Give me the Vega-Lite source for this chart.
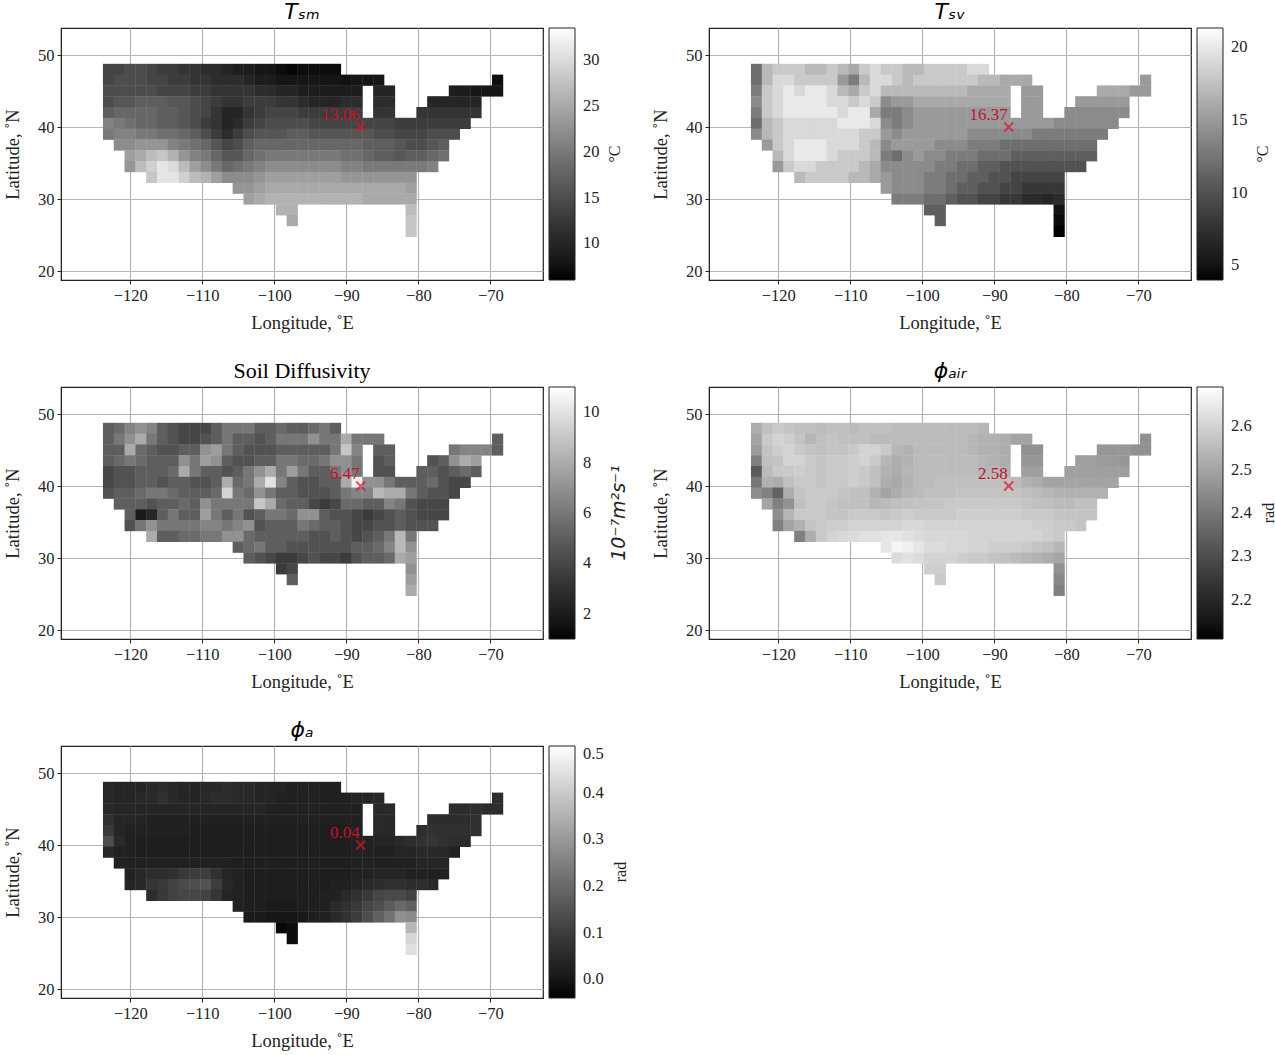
{"$schema":"https://vega.github.io/schema/vega-lite/v6.json","padding":{"left":2,"top":0,"right":20,"bottom":0},"background":"white",
"config":{"view":{"stroke":"#222","strokeWidth":1.2},"font":"Liberation Serif","title":{"font":"Liberation Serif","fontSize":22,"fontWeight":"normal","offset":4},
"axis":{"grid":true,"gridColor":"#b4b4b4","gridWidth":1.2,"zindex":1,"domainColor":"#222","tickColor":"#222","tickSize":4,"labelFont":"Liberation Serif","labelFontSize":16.5,"labelColor":"#222","titleFont":"Liberation Serif","titleFontSize":18.5,"titleFontWeight":"normal","titleColor":"#222","labelPadding":3,"titlePadding":10},"axisY":{"titlePadding":15},
"legend":{"gradientLength":252,"gradientThickness":26,"gradientStrokeColor":"#222","gradientStrokeWidth":1,"labelFont":"Liberation Serif","labelFontSize":16.5,"labelColor":"#222","labelOffset":21,"titleFont":"Liberation Serif","titleFontSize":16,"titleFontWeight":"normal","titleColor":"#222","titleOrient":"right","offset":6,"padding":0}},
"resolve":{"scale":{"color":"independent"},"legend":{"color":"independent"}},
"datasets":{"sites":[{"lon":-88,"lat":40,"panel":"tsm","label":"13.06"},{"lon":-88,"lat":40,"panel":"tsv","label":"16.37"},{"lon":-88,"lat":40,"panel":"dif","label":"6.47"},{"lon":-88,"lat":40,"panel":"air","label":"2.58"},{"lon":-88,"lat":40,"panel":"amp","label":"0.04"}],
"grid":[
{"lon":-123,"lat":48,"tsm":14,"tsv":12,"dif":5,"air":2.52,"amp":0.05},{"lon":-121.5,"lat":48,"tsm":14,"tsv":17,"dif":5.5,"air":2.56,"amp":0.04},{"lon":-120,"lat":48,"tsm":15,"tsv":18,"dif":6.5,"air":2.58,"amp":0.04},{"lon":-118.5,"lat":48,"tsm":15,"tsv":18,"dif":7,"air":2.57,"amp":0.04},{"lon":-117,"lat":48,"tsm":14,"tsv":18,"dif":6.5,"air":2.56,"amp":0.05},{"lon":-115.5,"lat":48,"tsm":13,"tsv":17,"dif":5,"air":2.56,"amp":0.06},{"lon":-114,"lat":48,"tsm":13,"tsv":17,"dif":4.5,"air":2.55,"amp":0.05},{"lon":-112.5,"lat":48,"tsm":12,"tsv":18,"dif":4,"air":2.56,"amp":0.04},{"lon":-111,"lat":48,"tsm":12,"tsv":17,"dif":4,"air":2.56,"amp":0.04},{"lon":-109.5,"lat":48,"tsm":11,"tsv":16,"dif":4,"air":2.55,"amp":0.05},{"lon":-108,"lat":48,"tsm":11,"tsv":18,"dif":5,"air":2.56,"amp":0.05},{"lon":-106.5,"lat":48,"tsm":10,"tsv":19,"dif":6,"air":2.56,"amp":0.06},{"lon":-105,"lat":48,"tsm":9,"tsv":18,"dif":6,"air":2.56,"amp":0.05},{"lon":-103.5,"lat":48,"tsm":9,"tsv":18,"dif":6,"air":2.55,"amp":0.05},{"lon":-102,"lat":48,"tsm":8,"tsv":17,"dif":5,"air":2.55,"amp":0.04},{"lon":-100.5,"lat":48,"tsm":8,"tsv":17,"dif":5,"air":2.55,"amp":0.04},{"lon":-99,"lat":48,"tsm":7,"tsv":18,"dif":5.5,"air":2.55,"amp":0.04},{"lon":-97.5,"lat":48,"tsm":6.5,"tsv":18,"dif":5,"air":2.55,"amp":0.03},{"lon":-96,"lat":48,"tsm":7,"tsv":18,"dif":5,"air":2.55,"amp":0.03},{"lon":-94.5,"lat":48,"tsm":7,"tsv":18,"dif":5.5,"air":2.55,"amp":0.03},{"lon":-93,"lat":48,"tsm":7,"tsv":19,"dif":6,"air":2.55,"amp":0.03},{"lon":-91.5,"lat":48,"tsm":7,"tsv":19,"dif":5,"air":2.54,"amp":0.03},
{"lon":-123,"lat":46.5,"tsm":14,"tsv":12,"dif":5,"air":2.5,"amp":0.05},{"lon":-121.5,"lat":46.5,"tsm":15,"tsv":17,"dif":6,"air":2.58,"amp":0.04},{"lon":-120,"lat":46.5,"tsm":15,"tsv":19,"dif":7,"air":2.6,"amp":0.04},{"lon":-118.5,"lat":46.5,"tsm":15,"tsv":19,"dif":8,"air":2.59,"amp":0.05},{"lon":-117,"lat":46.5,"tsm":14,"tsv":18,"dif":6,"air":2.57,"amp":0.05},{"lon":-115.5,"lat":46.5,"tsm":14,"tsv":18,"dif":5,"air":2.54,"amp":0.07},{"lon":-114,"lat":46.5,"tsm":13,"tsv":18,"dif":4.5,"air":2.56,"amp":0.05},{"lon":-112.5,"lat":46.5,"tsm":13,"tsv":18,"dif":4,"air":2.57,"amp":0.04},{"lon":-111,"lat":46.5,"tsm":12,"tsv":15,"dif":4,"air":2.56,"amp":0.04},{"lon":-109.5,"lat":46.5,"tsm":12,"tsv":13,"dif":4.5,"air":2.56,"amp":0.05},{"lon":-108,"lat":46.5,"tsm":11,"tsv":17,"dif":5,"air":2.56,"amp":0.06},{"lon":-106.5,"lat":46.5,"tsm":11,"tsv":19,"dif":6,"air":2.55,"amp":0.06},{"lon":-105,"lat":46.5,"tsm":11,"tsv":19,"dif":5,"air":2.55,"amp":0.05},{"lon":-103.5,"lat":46.5,"tsm":10,"tsv":18,"dif":5,"air":2.55,"amp":0.05},{"lon":-102,"lat":46.5,"tsm":9,"tsv":17,"dif":4.5,"air":2.55,"amp":0.04},{"lon":-100.5,"lat":46.5,"tsm":9,"tsv":18,"dif":5,"air":2.55,"amp":0.04},{"lon":-99,"lat":46.5,"tsm":8,"tsv":18,"dif":6,"air":2.55,"amp":0.03},{"lon":-97.5,"lat":46.5,"tsm":8,"tsv":18,"dif":6,"air":2.55,"amp":0.03},{"lon":-96,"lat":46.5,"tsm":8,"tsv":18,"dif":6,"air":2.55,"amp":0.03},{"lon":-94.5,"lat":46.5,"tsm":8,"tsv":18,"dif":7,"air":2.55,"amp":0.03},{"lon":-93,"lat":46.5,"tsm":8,"tsv":18,"dif":6,"air":2.54,"amp":0.03},{"lon":-91.5,"lat":46.5,"tsm":8,"tsv":17,"dif":6,"air":2.53,"amp":0.03},{"lon":-90,"lat":46.5,"tsm":7.5,"tsv":17,"dif":8,"air":2.53,"amp":0.03},{"lon":-88.5,"lat":46.5,"tsm":8,"tsv":16,"dif":6,"air":2.52,"amp":0.04},{"lon":-87,"lat":46.5,"tsm":8,"tsv":16,"dif":6,"air":2.5,"amp":0.04},{"lon":-85.5,"lat":46.5,"tsm":8,"tsv":16,"dif":6,"air":2.5,"amp":0.05},{"lon":-69,"lat":46.5,"tsm":7,"tsv":15,"dif":5,"air":2.46,"amp":0.06},
{"lon":-123,"lat":45,"tsm":15,"tsv":13,"dif":5,"air":2.48,"amp":0.05},{"lon":-121.5,"lat":45,"tsm":15,"tsv":18,"dif":5,"air":2.57,"amp":0.04},{"lon":-120,"lat":45,"tsm":15,"tsv":19,"dif":8,"air":2.59,"amp":0.04},{"lon":-118.5,"lat":45,"tsm":15,"tsv":20,"dif":5.5,"air":2.6,"amp":0.04},{"lon":-117,"lat":45,"tsm":15,"tsv":19,"dif":5,"air":2.58,"amp":0.04},{"lon":-115.5,"lat":45,"tsm":14,"tsv":20,"dif":4.5,"air":2.57,"amp":0.04},{"lon":-114,"lat":45,"tsm":14,"tsv":20,"dif":4.5,"air":2.56,"amp":0.04},{"lon":-112.5,"lat":45,"tsm":14,"tsv":19,"dif":5,"air":2.57,"amp":0.04},{"lon":-111,"lat":45,"tsm":13,"tsv":17,"dif":5,"air":2.57,"amp":0.04},{"lon":-109.5,"lat":45,"tsm":13,"tsv":16,"dif":7,"air":2.58,"amp":0.04},{"lon":-108,"lat":45,"tsm":12,"tsv":18,"dif":7.5,"air":2.6,"amp":0.04},{"lon":-106.5,"lat":45,"tsm":12,"tsv":19,"dif":6,"air":2.6,"amp":0.04},{"lon":-105,"lat":45,"tsm":12,"tsv":17,"dif":5,"air":2.58,"amp":0.04},{"lon":-103.5,"lat":45,"tsm":12,"tsv":17,"dif":4.5,"air":2.54,"amp":0.04},{"lon":-102,"lat":45,"tsm":11,"tsv":17,"dif":4.5,"air":2.53,"amp":0.04},{"lon":-100.5,"lat":45,"tsm":11,"tsv":17,"dif":4.5,"air":2.55,"amp":0.03},{"lon":-99,"lat":45,"tsm":10,"tsv":17,"dif":5,"air":2.55,"amp":0.03},{"lon":-97.5,"lat":45,"tsm":10,"tsv":17,"dif":5,"air":2.55,"amp":0.03},{"lon":-96,"lat":45,"tsm":9,"tsv":17,"dif":5,"air":2.55,"amp":0.03},{"lon":-94.5,"lat":45,"tsm":9,"tsv":17,"dif":5,"air":2.55,"amp":0.03},{"lon":-93,"lat":45,"tsm":9,"tsv":16,"dif":5,"air":2.54,"amp":0.03},{"lon":-91.5,"lat":45,"tsm":9,"tsv":16,"dif":6,"air":2.53,"amp":0.03},{"lon":-90,"lat":45,"tsm":9,"tsv":16,"dif":9,"air":2.53,"amp":0.03},{"lon":-88.5,"lat":45,"tsm":9,"tsv":16,"dif":6.5,"air":2.52,"amp":0.03},{"lon":-85.5,"lat":45,"tsm":10,"tsv":15,"dif":5,"air":2.46,"amp":0.05},{"lon":-84,"lat":45,"tsm":10,"tsv":15,"dif":5,"air":2.46,"amp":0.05},{"lon":-75,"lat":45,"tsm":9,"tsv":16,"dif":6,"air":2.47,"amp":0.06},{"lon":-73.5,"lat":45,"tsm":9,"tsv":16,"dif":6.5,"air":2.47,"amp":0.06},{"lon":-72,"lat":45,"tsm":8,"tsv":16,"dif":6.5,"air":2.47,"amp":0.06},{"lon":-70.5,"lat":45,"tsm":8,"tsv":15,"dif":6.5,"air":2.46,"amp":0.06},{"lon":-69,"lat":45,"tsm":8,"tsv":15,"dif":5,"air":2.46,"amp":0.06},
{"lon":-123,"lat":43.5,"tsm":15,"tsv":14,"dif":5,"air":2.42,"amp":0.07},{"lon":-121.5,"lat":43.5,"tsm":16,"tsv":18,"dif":5.5,"air":2.56,"amp":0.04},{"lon":-120,"lat":43.5,"tsm":16,"tsv":19,"dif":6,"air":2.57,"amp":0.04},{"lon":-118.5,"lat":43.5,"tsm":17,"tsv":20,"dif":5.5,"air":2.6,"amp":0.04},{"lon":-117,"lat":43.5,"tsm":17,"tsv":20,"dif":5,"air":2.6,"amp":0.03},{"lon":-115.5,"lat":43.5,"tsm":17,"tsv":20,"dif":5,"air":2.58,"amp":0.03},{"lon":-114,"lat":43.5,"tsm":16,"tsv":20,"dif":5,"air":2.57,"amp":0.03},{"lon":-112.5,"lat":43.5,"tsm":16,"tsv":19,"dif":7,"air":2.58,"amp":0.03},{"lon":-111,"lat":43.5,"tsm":15,"tsv":19,"dif":6,"air":2.58,"amp":0.03},{"lon":-109.5,"lat":43.5,"tsm":14,"tsv":18,"dif":7.5,"air":2.59,"amp":0.03},{"lon":-108,"lat":43.5,"tsm":13,"tsv":19,"dif":7,"air":2.6,"amp":0.03},{"lon":-106.5,"lat":43.5,"tsm":12,"tsv":18,"dif":5,"air":2.58,"amp":0.03},{"lon":-105,"lat":43.5,"tsm":12,"tsv":14,"dif":4.5,"air":2.54,"amp":0.03},{"lon":-103.5,"lat":43.5,"tsm":13,"tsv":15,"dif":4.5,"air":2.52,"amp":0.03},{"lon":-102,"lat":43.5,"tsm":13,"tsv":15,"dif":5,"air":2.53,"amp":0.03},{"lon":-100.5,"lat":43.5,"tsm":13,"tsv":16,"dif":5,"air":2.55,"amp":0.03},{"lon":-99,"lat":43.5,"tsm":12,"tsv":16,"dif":6,"air":2.55,"amp":0.03},{"lon":-97.5,"lat":43.5,"tsm":12,"tsv":16,"dif":6,"air":2.55,"amp":0.03},{"lon":-96,"lat":43.5,"tsm":11,"tsv":16,"dif":5.5,"air":2.55,"amp":0.03},{"lon":-94.5,"lat":43.5,"tsm":10,"tsv":16,"dif":5.5,"air":2.55,"amp":0.03},{"lon":-93,"lat":43.5,"tsm":10,"tsv":16,"dif":6,"air":2.55,"amp":0.03},{"lon":-91.5,"lat":43.5,"tsm":10,"tsv":16,"dif":7,"air":2.54,"amp":0.03},{"lon":-90,"lat":43.5,"tsm":11,"tsv":16,"dif":7,"air":2.53,"amp":0.03},{"lon":-88.5,"lat":43.5,"tsm":11,"tsv":16,"dif":6,"air":2.52,"amp":0.03},{"lon":-85.5,"lat":43.5,"tsm":11,"tsv":15,"dif":4.5,"air":2.47,"amp":0.05},{"lon":-84,"lat":43.5,"tsm":11,"tsv":15,"dif":5,"air":2.47,"amp":0.05},{"lon":-78,"lat":43.5,"tsm":10,"tsv":15,"dif":4.5,"air":2.49,"amp":0.06},{"lon":-76.5,"lat":43.5,"tsm":10,"tsv":15,"dif":5,"air":2.49,"amp":0.06},{"lon":-75,"lat":43.5,"tsm":10,"tsv":15,"dif":7,"air":2.48,"amp":0.06},{"lon":-73.5,"lat":43.5,"tsm":10,"tsv":15,"dif":8,"air":2.48,"amp":0.06},{"lon":-72,"lat":43.5,"tsm":10,"tsv":15,"dif":7.5,"air":2.47,"amp":0.07},
{"lon":-123,"lat":42,"tsm":17,"tsv":13,"dif":4,"air":2.33,"amp":0.09},{"lon":-121.5,"lat":42,"tsm":18,"tsv":18,"dif":4.5,"air":2.55,"amp":0.04},{"lon":-120,"lat":42,"tsm":18,"tsv":19,"dif":4.5,"air":2.58,"amp":0.03},{"lon":-118.5,"lat":42,"tsm":18,"tsv":20,"dif":5,"air":2.58,"amp":0.03},{"lon":-117,"lat":42,"tsm":18,"tsv":20,"dif":5,"air":2.59,"amp":0.03},{"lon":-115.5,"lat":42,"tsm":17,"tsv":20,"dif":5,"air":2.58,"amp":0.03},{"lon":-114,"lat":42,"tsm":17,"tsv":20,"dif":5.5,"air":2.57,"amp":0.03},{"lon":-112.5,"lat":42,"tsm":16,"tsv":20,"dif":8,"air":2.58,"amp":0.03},{"lon":-111,"lat":42,"tsm":15,"tsv":19,"dif":6,"air":2.58,"amp":0.02},{"lon":-109.5,"lat":42,"tsm":14,"tsv":20,"dif":5,"air":2.59,"amp":0.02},{"lon":-108,"lat":42,"tsm":12,"tsv":20,"dif":5,"air":2.58,"amp":0.02},{"lon":-106.5,"lat":42,"tsm":10,"tsv":16,"dif":4.5,"air":2.56,"amp":0.02},{"lon":-105,"lat":42,"tsm":10,"tsv":13,"dif":5,"air":2.53,"amp":0.02},{"lon":-103.5,"lat":42,"tsm":12,"tsv":13,"dif":6,"air":2.52,"amp":0.02},{"lon":-102,"lat":42,"tsm":13,"tsv":14,"dif":7,"air":2.54,"amp":0.02},{"lon":-100.5,"lat":42,"tsm":14,"tsv":15,"dif":8,"air":2.55,"amp":0.02},{"lon":-99,"lat":42,"tsm":14,"tsv":15,"dif":6,"air":2.55,"amp":0.02},{"lon":-97.5,"lat":42,"tsm":14,"tsv":15,"dif":7.5,"air":2.55,"amp":0.02},{"lon":-96,"lat":42,"tsm":13,"tsv":15,"dif":6,"air":2.55,"amp":0.02},{"lon":-94.5,"lat":42,"tsm":13,"tsv":15,"dif":5,"air":2.55,"amp":0.02},{"lon":-93,"lat":42,"tsm":13,"tsv":15,"dif":5,"air":2.55,"amp":0.02},{"lon":-91.5,"lat":42,"tsm":13,"tsv":15,"dif":6,"air":2.54,"amp":0.02},{"lon":-90,"lat":42,"tsm":13,"tsv":15,"dif":7,"air":2.54,"amp":0.02},{"lon":-88.5,"lat":42,"tsm":13,"tsv":15,"dif":6,"air":2.53,"amp":0.03},{"lon":-85.5,"lat":42,"tsm":12,"tsv":15,"dif":4.5,"air":2.49,"amp":0.05},{"lon":-84,"lat":42,"tsm":12,"tsv":15,"dif":4.5,"air":2.49,"amp":0.05},{"lon":-79.5,"lat":42,"tsm":12,"tsv":14,"dif":5,"air":2.49,"amp":0.06},{"lon":-78,"lat":42,"tsm":12,"tsv":14,"dif":5,"air":2.49,"amp":0.07},{"lon":-76.5,"lat":42,"tsm":12,"tsv":14,"dif":4.5,"air":2.49,"amp":0.07},{"lon":-75,"lat":42,"tsm":12,"tsv":14,"dif":5,"air":2.49,"amp":0.07},{"lon":-73.5,"lat":42,"tsm":12,"tsv":14,"dif":5.5,"air":2.49,"amp":0.07},{"lon":-72,"lat":42,"tsm":12,"tsv":14,"dif":5,"air":2.49,"amp":0.07},
{"lon":-123,"lat":40.5,"tsm":21,"tsv":12,"dif":4,"air":2.4,"amp":0.14},{"lon":-121.5,"lat":40.5,"tsm":20,"tsv":17,"dif":4.5,"air":2.53,"amp":0.05},{"lon":-120,"lat":40.5,"tsm":19,"tsv":18,"dif":4.5,"air":2.52,"amp":0.03},{"lon":-118.5,"lat":40.5,"tsm":18,"tsv":19,"dif":5,"air":2.56,"amp":0.02},{"lon":-117,"lat":40.5,"tsm":18,"tsv":19,"dif":5,"air":2.58,"amp":0.02},{"lon":-115.5,"lat":40.5,"tsm":17,"tsv":19,"dif":4.5,"air":2.58,"amp":0.02},{"lon":-114,"lat":40.5,"tsm":17,"tsv":19,"dif":5,"air":2.57,"amp":0.02},{"lon":-112.5,"lat":40.5,"tsm":16,"tsv":19,"dif":5,"air":2.58,"amp":0.02},{"lon":-111,"lat":40.5,"tsm":15,"tsv":20,"dif":4.5,"air":2.58,"amp":0.02},{"lon":-109.5,"lat":40.5,"tsm":13,"tsv":20,"dif":4.5,"air":2.59,"amp":0.02},{"lon":-108,"lat":40.5,"tsm":12,"tsv":20,"dif":5,"air":2.58,"amp":0.02},{"lon":-106.5,"lat":40.5,"tsm":10,"tsv":19,"dif":8,"air":2.56,"amp":0.02},{"lon":-105,"lat":40.5,"tsm":11,"tsv":14,"dif":5.5,"air":2.52,"amp":0.02},{"lon":-103.5,"lat":40.5,"tsm":13,"tsv":13,"dif":6,"air":2.51,"amp":0.02},{"lon":-102,"lat":40.5,"tsm":14,"tsv":14,"dif":8,"air":2.53,"amp":0.02},{"lon":-100.5,"lat":40.5,"tsm":15,"tsv":15,"dif":10,"air":2.55,"amp":0.02},{"lon":-99,"lat":40.5,"tsm":15,"tsv":15,"dif":6.5,"air":2.55,"amp":0.02},{"lon":-97.5,"lat":40.5,"tsm":15,"tsv":15,"dif":5,"air":2.56,"amp":0.02},{"lon":-96,"lat":40.5,"tsm":15,"tsv":15,"dif":4.5,"air":2.56,"amp":0.02},{"lon":-94.5,"lat":40.5,"tsm":14,"tsv":15,"dif":4.5,"air":2.56,"amp":0.02},{"lon":-93,"lat":40.5,"tsm":14,"tsv":15,"dif":5,"air":2.56,"amp":0.02},{"lon":-91.5,"lat":40.5,"tsm":14,"tsv":15,"dif":5,"air":2.56,"amp":0.02},{"lon":-90,"lat":40.5,"tsm":14,"tsv":15,"dif":8,"air":2.56,"amp":0.02},{"lon":-88.5,"lat":40.5,"tsm":14,"tsv":15,"dif":10.5,"air":2.56,"amp":0.03},{"lon":-87,"lat":40.5,"tsm":14,"tsv":15,"dif":7,"air":2.55,"amp":0.03},{"lon":-85.5,"lat":40.5,"tsm":14,"tsv":15,"dif":7,"air":2.53,"amp":0.04},{"lon":-84,"lat":40.5,"tsm":14,"tsv":15,"dif":6,"air":2.52,"amp":0.04},{"lon":-82.5,"lat":40.5,"tsm":13,"tsv":15,"dif":5,"air":2.5,"amp":0.05},{"lon":-81,"lat":40.5,"tsm":13,"tsv":14,"dif":5,"air":2.5,"amp":0.06},{"lon":-79.5,"lat":40.5,"tsm":13,"tsv":14,"dif":5,"air":2.5,"amp":0.07},{"lon":-78,"lat":40.5,"tsm":13,"tsv":14,"dif":5.5,"air":2.5,"amp":0.08},{"lon":-76.5,"lat":40.5,"tsm":13,"tsv":14,"dif":4.5,"air":2.5,"amp":0.07},{"lon":-75,"lat":40.5,"tsm":13,"tsv":14,"dif":4,"air":2.5,"amp":0.06},{"lon":-73.5,"lat":40.5,"tsm":13,"tsv":14,"dif":4,"air":2.5,"amp":0.06},
{"lon":-123,"lat":39,"tsm":20,"tsv":14,"dif":4.5,"air":2.45,"amp":0.05},{"lon":-121.5,"lat":39,"tsm":21,"tsv":17,"dif":5,"air":2.42,"amp":0.03},{"lon":-120,"lat":39,"tsm":21,"tsv":18,"dif":5,"air":2.35,"amp":0.03},{"lon":-118.5,"lat":39,"tsm":20,"tsv":19,"dif":5.5,"air":2.52,"amp":0.02},{"lon":-117,"lat":39,"tsm":20,"tsv":19,"dif":6,"air":2.57,"amp":0.02},{"lon":-115.5,"lat":39,"tsm":19,"tsv":19,"dif":6,"air":2.58,"amp":0.02},{"lon":-114,"lat":39,"tsm":19,"tsv":19,"dif":5.5,"air":2.58,"amp":0.02},{"lon":-112.5,"lat":39,"tsm":18,"tsv":19,"dif":5,"air":2.58,"amp":0.02},{"lon":-111,"lat":39,"tsm":17,"tsv":19,"dif":5,"air":2.57,"amp":0.02},{"lon":-109.5,"lat":39,"tsm":15,"tsv":19,"dif":5,"air":2.56,"amp":0.02},{"lon":-108,"lat":39,"tsm":13,"tsv":18,"dif":5.5,"air":2.56,"amp":0.02},{"lon":-106.5,"lat":39,"tsm":11,"tsv":18,"dif":9.5,"air":2.53,"amp":0.02},{"lon":-105,"lat":39,"tsm":13,"tsv":15,"dif":6,"air":2.5,"amp":0.02},{"lon":-103.5,"lat":39,"tsm":15,"tsv":14,"dif":5.5,"air":2.52,"amp":0.02},{"lon":-102,"lat":39,"tsm":16,"tsv":15,"dif":7,"air":2.54,"amp":0.02},{"lon":-100.5,"lat":39,"tsm":16,"tsv":15,"dif":6,"air":2.55,"amp":0.02},{"lon":-99,"lat":39,"tsm":16,"tsv":15,"dif":5,"air":2.56,"amp":0.02},{"lon":-97.5,"lat":39,"tsm":17,"tsv":15,"dif":5,"air":2.56,"amp":0.02},{"lon":-96,"lat":39,"tsm":17,"tsv":15,"dif":4.5,"air":2.56,"amp":0.02},{"lon":-94.5,"lat":39,"tsm":16,"tsv":15,"dif":4.5,"air":2.57,"amp":0.02},{"lon":-93,"lat":39,"tsm":16,"tsv":14,"dif":4.5,"air":2.57,"amp":0.02},{"lon":-91.5,"lat":39,"tsm":16,"tsv":14,"dif":5,"air":2.57,"amp":0.02},{"lon":-90,"lat":39,"tsm":16,"tsv":14,"dif":6,"air":2.57,"amp":0.02},{"lon":-88.5,"lat":39,"tsm":16,"tsv":14,"dif":6.5,"air":2.57,"amp":0.03},{"lon":-87,"lat":39,"tsm":16,"tsv":14,"dif":6.5,"air":2.57,"amp":0.03},{"lon":-85.5,"lat":39,"tsm":15,"tsv":14,"dif":8.5,"air":2.56,"amp":0.03},{"lon":-84,"lat":39,"tsm":15,"tsv":13,"dif":8,"air":2.55,"amp":0.03},{"lon":-82.5,"lat":39,"tsm":14,"tsv":13,"dif":8,"air":2.54,"amp":0.04},{"lon":-81,"lat":39,"tsm":14,"tsv":13,"dif":6,"air":2.53,"amp":0.04},{"lon":-79.5,"lat":39,"tsm":14,"tsv":13,"dif":5,"air":2.53,"amp":0.05},{"lon":-78,"lat":39,"tsm":15,"tsv":13,"dif":4.5,"air":2.53,"amp":0.05},{"lon":-76.5,"lat":39,"tsm":15,"tsv":13,"dif":4.5,"air":2.53,"amp":0.05},{"lon":-75,"lat":39,"tsm":15,"tsv":13,"dif":4,"air":2.53,"amp":0.03},
{"lon":-121.5,"lat":37.5,"tsm":22,"tsv":15,"dif":5,"air":2.5,"amp":0.03},{"lon":-120,"lat":37.5,"tsm":22,"tsv":18,"dif":5,"air":2.42,"amp":0.03},{"lon":-118.5,"lat":37.5,"tsm":23,"tsv":19,"dif":5,"air":2.46,"amp":0.03},{"lon":-117,"lat":37.5,"tsm":23,"tsv":20,"dif":4.5,"air":2.56,"amp":0.03},{"lon":-115.5,"lat":37.5,"tsm":23,"tsv":20,"dif":5,"air":2.58,"amp":0.03},{"lon":-114,"lat":37.5,"tsm":21,"tsv":20,"dif":5,"air":2.58,"amp":0.03},{"lon":-112.5,"lat":37.5,"tsm":20,"tsv":19,"dif":5.5,"air":2.57,"amp":0.03},{"lon":-111,"lat":37.5,"tsm":19,"tsv":19,"dif":5,"air":2.56,"amp":0.03},{"lon":-109.5,"lat":37.5,"tsm":18,"tsv":19,"dif":7,"air":2.56,"amp":0.03},{"lon":-108,"lat":37.5,"tsm":16,"tsv":18,"dif":6,"air":2.56,"amp":0.03},{"lon":-106.5,"lat":37.5,"tsm":14,"tsv":17,"dif":6,"air":2.54,"amp":0.03},{"lon":-105,"lat":37.5,"tsm":15,"tsv":14,"dif":6,"air":2.55,"amp":0.02},{"lon":-103.5,"lat":37.5,"tsm":17,"tsv":15,"dif":6,"air":2.56,"amp":0.02},{"lon":-102,"lat":37.5,"tsm":18,"tsv":15,"dif":9,"air":2.56,"amp":0.02},{"lon":-100.5,"lat":37.5,"tsm":18,"tsv":15,"dif":8,"air":2.57,"amp":0.02},{"lon":-99,"lat":37.5,"tsm":18,"tsv":15,"dif":5.5,"air":2.57,"amp":0.02},{"lon":-97.5,"lat":37.5,"tsm":18,"tsv":14,"dif":5,"air":2.57,"amp":0.02},{"lon":-96,"lat":37.5,"tsm":18,"tsv":14,"dif":5,"air":2.58,"amp":0.02},{"lon":-94.5,"lat":37.5,"tsm":18,"tsv":14,"dif":4,"air":2.58,"amp":0.02},{"lon":-93,"lat":37.5,"tsm":18,"tsv":13,"dif":3.5,"air":2.58,"amp":0.02},{"lon":-91.5,"lat":37.5,"tsm":18,"tsv":13,"dif":4,"air":2.58,"amp":0.02},{"lon":-90,"lat":37.5,"tsm":18,"tsv":13,"dif":5.5,"air":2.58,"amp":0.02},{"lon":-88.5,"lat":37.5,"tsm":18,"tsv":12,"dif":5.5,"air":2.58,"amp":0.03},{"lon":-87,"lat":37.5,"tsm":17,"tsv":12,"dif":5,"air":2.58,"amp":0.03},{"lon":-85.5,"lat":37.5,"tsm":17,"tsv":12,"dif":5,"air":2.57,"amp":0.03},{"lon":-84,"lat":37.5,"tsm":17,"tsv":12,"dif":6.5,"air":2.56,"amp":0.03},{"lon":-82.5,"lat":37.5,"tsm":16,"tsv":12,"dif":6,"air":2.56,"amp":0.03},{"lon":-81,"lat":37.5,"tsm":15,"tsv":12,"dif":4.5,"air":2.55,"amp":0.03},{"lon":-79.5,"lat":37.5,"tsm":15,"tsv":12,"dif":4,"air":2.55,"amp":0.04},{"lon":-78,"lat":37.5,"tsm":16,"tsv":12,"dif":4,"air":2.56,"amp":0.04},{"lon":-76.5,"lat":37.5,"tsm":17,"tsv":12,"dif":4,"air":2.56,"amp":0.04},
{"lon":-120,"lat":36,"tsm":24,"tsv":17,"dif":5,"air":2.45,"amp":0.03},{"lon":-118.5,"lat":36,"tsm":25,"tsv":19,"dif":2,"air":2.54,"amp":0.05},{"lon":-117,"lat":36,"tsm":27,"tsv":20,"dif":2.5,"air":2.58,"amp":0.06},{"lon":-115.5,"lat":36,"tsm":28,"tsv":20,"dif":5,"air":2.58,"amp":0.06},{"lon":-114,"lat":36,"tsm":26,"tsv":20,"dif":6,"air":2.58,"amp":0.07},{"lon":-112.5,"lat":36,"tsm":23,"tsv":19,"dif":5,"air":2.57,"amp":0.09},{"lon":-111,"lat":36,"tsm":21,"tsv":18,"dif":5,"air":2.57,"amp":0.1},{"lon":-109.5,"lat":36,"tsm":20,"tsv":18,"dif":7.5,"air":2.58,"amp":0.1},{"lon":-108,"lat":36,"tsm":18,"tsv":18,"dif":6,"air":2.58,"amp":0.07},{"lon":-106.5,"lat":36,"tsm":16,"tsv":17,"dif":5,"air":2.58,"amp":0.04},{"lon":-105,"lat":36,"tsm":16,"tsv":13,"dif":6,"air":2.57,"amp":0.03},{"lon":-103.5,"lat":36,"tsm":18,"tsv":12,"dif":4.5,"air":2.58,"amp":0.02},{"lon":-102,"lat":36,"tsm":19,"tsv":14,"dif":5,"air":2.59,"amp":0.02},{"lon":-100.5,"lat":36,"tsm":20,"tsv":15,"dif":6,"air":2.58,"amp":0.02},{"lon":-99,"lat":36,"tsm":20,"tsv":14,"dif":6,"air":2.58,"amp":0.02},{"lon":-97.5,"lat":36,"tsm":20,"tsv":14,"dif":5.5,"air":2.58,"amp":0.02},{"lon":-96,"lat":36,"tsm":20,"tsv":13,"dif":7,"air":2.58,"amp":0.02},{"lon":-94.5,"lat":36,"tsm":20,"tsv":13,"dif":7,"air":2.59,"amp":0.02},{"lon":-93,"lat":36,"tsm":20,"tsv":13,"dif":5,"air":2.59,"amp":0.02},{"lon":-91.5,"lat":36,"tsm":20,"tsv":12,"dif":4.5,"air":2.59,"amp":0.02},{"lon":-90,"lat":36,"tsm":19,"tsv":12,"dif":4.5,"air":2.59,"amp":0.02},{"lon":-88.5,"lat":36,"tsm":19,"tsv":12,"dif":4,"air":2.59,"amp":0.03},{"lon":-87,"lat":36,"tsm":18,"tsv":11,"dif":3.5,"air":2.59,"amp":0.03},{"lon":-85.5,"lat":36,"tsm":17,"tsv":11,"dif":4,"air":2.58,"amp":0.04},{"lon":-84,"lat":36,"tsm":17,"tsv":11,"dif":4.5,"air":2.58,"amp":0.04},{"lon":-82.5,"lat":36,"tsm":16,"tsv":11,"dif":5,"air":2.58,"amp":0.04},{"lon":-81,"lat":36,"tsm":17,"tsv":11,"dif":4.5,"air":2.57,"amp":0.03},{"lon":-79.5,"lat":36,"tsm":17,"tsv":11,"dif":4,"air":2.57,"amp":0.03},{"lon":-78,"lat":36,"tsm":18,"tsv":11,"dif":4,"air":2.57,"amp":0.03},{"lon":-76.5,"lat":36,"tsm":19,"tsv":11,"dif":4,"air":2.57,"amp":0.03},
{"lon":-120,"lat":34.5,"tsm":23,"tsv":15,"dif":4.5,"air":2.42,"amp":0.04},{"lon":-118.5,"lat":34.5,"tsm":27,"tsv":18,"dif":6,"air":2.5,"amp":0.05},{"lon":-117,"lat":34.5,"tsm":29,"tsv":19,"dif":7,"air":2.53,"amp":0.08},{"lon":-115.5,"lat":34.5,"tsm":31,"tsv":19,"dif":6,"air":2.57,"amp":0.09},{"lon":-114,"lat":34.5,"tsm":30,"tsv":18,"dif":6,"air":2.58,"amp":0.11},{"lon":-112.5,"lat":34.5,"tsm":27,"tsv":18,"dif":6,"air":2.59,"amp":0.13},{"lon":-111,"lat":34.5,"tsm":24,"tsv":18,"dif":6,"air":2.59,"amp":0.14},{"lon":-109.5,"lat":34.5,"tsm":22,"tsv":18,"dif":6.5,"air":2.6,"amp":0.15},{"lon":-108,"lat":34.5,"tsm":20,"tsv":17,"dif":6.5,"air":2.6,"amp":0.1},{"lon":-106.5,"lat":34.5,"tsm":18,"tsv":16,"dif":6,"air":2.6,"amp":0.05},{"lon":-105,"lat":34.5,"tsm":19,"tsv":14,"dif":6.5,"air":2.6,"amp":0.03},{"lon":-103.5,"lat":34.5,"tsm":20,"tsv":14,"dif":7,"air":2.6,"amp":0.02},{"lon":-102,"lat":34.5,"tsm":21,"tsv":14,"dif":4.5,"air":2.61,"amp":0.02},{"lon":-100.5,"lat":34.5,"tsm":22,"tsv":14,"dif":5,"air":2.61,"amp":0.02},{"lon":-99,"lat":34.5,"tsm":22,"tsv":14,"dif":5,"air":2.6,"amp":0.02},{"lon":-97.5,"lat":34.5,"tsm":22,"tsv":13,"dif":5,"air":2.6,"amp":0.02},{"lon":-96,"lat":34.5,"tsm":22,"tsv":13,"dif":6,"air":2.6,"amp":0.02},{"lon":-94.5,"lat":34.5,"tsm":22,"tsv":12,"dif":5.5,"air":2.6,"amp":0.02},{"lon":-93,"lat":34.5,"tsm":22,"tsv":12,"dif":5,"air":2.6,"amp":0.02},{"lon":-91.5,"lat":34.5,"tsm":22,"tsv":11,"dif":5,"air":2.6,"amp":0.03},{"lon":-90,"lat":34.5,"tsm":21,"tsv":11,"dif":4.5,"air":2.6,"amp":0.03},{"lon":-88.5,"lat":34.5,"tsm":21,"tsv":10,"dif":4,"air":2.6,"amp":0.04},{"lon":-87,"lat":34.5,"tsm":20,"tsv":10,"dif":4,"air":2.6,"amp":0.05},{"lon":-85.5,"lat":34.5,"tsm":20,"tsv":10,"dif":4.5,"air":2.6,"amp":0.06},{"lon":-84,"lat":34.5,"tsm":20,"tsv":10,"dif":4.5,"air":2.59,"amp":0.07},{"lon":-82.5,"lat":34.5,"tsm":20,"tsv":10,"dif":5,"air":2.59,"amp":0.07},{"lon":-81,"lat":34.5,"tsm":20,"tsv":10,"dif":4.5,"air":2.58,"amp":0.06},{"lon":-79.5,"lat":34.5,"tsm":20,"tsv":10,"dif":4.5,"air":2.58,"amp":0.06},{"lon":-78,"lat":34.5,"tsm":21,"tsv":10,"dif":4.5,"air":2.57,"amp":0.05},
{"lon":-117,"lat":33,"tsm":28,"tsv":17,"dif":8,"air":2.42,"amp":0.06},{"lon":-115.5,"lat":33,"tsm":31,"tsv":18,"dif":5,"air":2.52,"amp":0.09},{"lon":-114,"lat":33,"tsm":31,"tsv":18,"dif":5,"air":2.58,"amp":0.11},{"lon":-112.5,"lat":33,"tsm":29,"tsv":18,"dif":5.5,"air":2.6,"amp":0.12},{"lon":-111,"lat":33,"tsm":27,"tsv":18,"dif":5.5,"air":2.61,"amp":0.12},{"lon":-109.5,"lat":33,"tsm":26,"tsv":17,"dif":6,"air":2.62,"amp":0.11},{"lon":-108,"lat":33,"tsm":24,"tsv":17,"dif":6,"air":2.63,"amp":0.08},{"lon":-106.5,"lat":33,"tsm":22,"tsv":16,"dif":7,"air":2.63,"amp":0.04},{"lon":-105,"lat":33,"tsm":22,"tsv":15,"dif":7,"air":2.64,"amp":0.03},{"lon":-103.5,"lat":33,"tsm":22,"tsv":14,"dif":5.5,"air":2.64,"amp":0.02},{"lon":-102,"lat":33,"tsm":23,"tsv":14,"dif":5,"air":2.63,"amp":0.02},{"lon":-100.5,"lat":33,"tsm":24,"tsv":14,"dif":5,"air":2.62,"amp":0.02},{"lon":-99,"lat":33,"tsm":24,"tsv":13,"dif":5,"air":2.61,"amp":0.02},{"lon":-97.5,"lat":33,"tsm":24,"tsv":13,"dif":5,"air":2.61,"amp":0.02},{"lon":-96,"lat":33,"tsm":24,"tsv":12,"dif":5,"air":2.61,"amp":0.02},{"lon":-94.5,"lat":33,"tsm":24,"tsv":12,"dif":4.5,"air":2.61,"amp":0.02},{"lon":-93,"lat":33,"tsm":24,"tsv":11,"dif":4.5,"air":2.6,"amp":0.03},{"lon":-91.5,"lat":33,"tsm":24,"tsv":11,"dif":5,"air":2.6,"amp":0.03},{"lon":-90,"lat":33,"tsm":23,"tsv":10,"dif":4.5,"air":2.6,"amp":0.05},{"lon":-88.5,"lat":33,"tsm":23,"tsv":10,"dif":4,"air":2.6,"amp":0.07},{"lon":-87,"lat":33,"tsm":23,"tsv":9,"dif":4.5,"air":2.6,"amp":0.09},{"lon":-85.5,"lat":33,"tsm":23,"tsv":9,"dif":5,"air":2.6,"amp":0.12},{"lon":-84,"lat":33,"tsm":23,"tsv":9,"dif":6,"air":2.6,"amp":0.13},{"lon":-82.5,"lat":33,"tsm":23,"tsv":9,"dif":8.5,"air":2.59,"amp":0.13},{"lon":-81,"lat":33,"tsm":23,"tsv":9,"dif":6,"air":2.58,"amp":0.11},
{"lon":-105,"lat":31.5,"tsm":23,"tsv":15,"dif":5,"air":2.64,"amp":0.03},{"lon":-103.5,"lat":31.5,"tsm":23,"tsv":14,"dif":5.5,"air":2.67,"amp":0.02},{"lon":-102,"lat":31.5,"tsm":24,"tsv":14,"dif":6,"air":2.66,"amp":0.02},{"lon":-100.5,"lat":31.5,"tsm":25,"tsv":14,"dif":5,"air":2.64,"amp":0.01},{"lon":-99,"lat":31.5,"tsm":25,"tsv":13,"dif":5,"air":2.62,"amp":0.01},{"lon":-97.5,"lat":31.5,"tsm":25,"tsv":13,"dif":4.5,"air":2.62,"amp":0.01},{"lon":-96,"lat":31.5,"tsm":25,"tsv":12,"dif":4.5,"air":2.61,"amp":0.02},{"lon":-94.5,"lat":31.5,"tsm":25,"tsv":11,"dif":4.5,"air":2.61,"amp":0.02},{"lon":-93,"lat":31.5,"tsm":25,"tsv":11,"dif":4.5,"air":2.6,"amp":0.03},{"lon":-91.5,"lat":31.5,"tsm":25,"tsv":10,"dif":4.5,"air":2.6,"amp":0.05},{"lon":-90,"lat":31.5,"tsm":25,"tsv":10,"dif":4.5,"air":2.59,"amp":0.07},{"lon":-88.5,"lat":31.5,"tsm":25,"tsv":9,"dif":5,"air":2.59,"amp":0.09},{"lon":-87,"lat":31.5,"tsm":25,"tsv":9,"dif":5,"air":2.59,"amp":0.12},{"lon":-85.5,"lat":31.5,"tsm":25,"tsv":8,"dif":5.5,"air":2.58,"amp":0.14},{"lon":-84,"lat":31.5,"tsm":25,"tsv":8,"dif":6.5,"air":2.57,"amp":0.17},{"lon":-82.5,"lat":31.5,"tsm":25,"tsv":8,"dif":8.5,"air":2.56,"amp":0.2},{"lon":-81,"lat":31.5,"tsm":24,"tsv":8,"dif":7,"air":2.54,"amp":0.18},
{"lon":-103.5,"lat":30,"tsm":24,"tsv":13,"dif":5,"air":2.62,"amp":0.01},{"lon":-102,"lat":30,"tsm":25,"tsv":13,"dif":4.5,"air":2.63,"amp":0.01},{"lon":-100.5,"lat":30,"tsm":26,"tsv":13,"dif":4,"air":2.62,"amp":0},{"lon":-99,"lat":30,"tsm":26,"tsv":12,"dif":3.5,"air":2.6,"amp":0},{"lon":-97.5,"lat":30,"tsm":26,"tsv":12,"dif":3.5,"air":2.6,"amp":0},{"lon":-96,"lat":30,"tsm":26,"tsv":11,"dif":4,"air":2.6,"amp":0.01},{"lon":-94.5,"lat":30,"tsm":26,"tsv":10,"dif":4.5,"air":2.59,"amp":0.02},{"lon":-93,"lat":30,"tsm":26,"tsv":10,"dif":4,"air":2.58,"amp":0.03},{"lon":-91.5,"lat":30,"tsm":26,"tsv":9,"dif":4,"air":2.58,"amp":0.05},{"lon":-90,"lat":30,"tsm":26,"tsv":9,"dif":3.5,"air":2.57,"amp":0.07},{"lon":-88.5,"lat":30,"tsm":26,"tsv":8,"dif":4.5,"air":2.56,"amp":0.1},{"lon":-87,"lat":30,"tsm":25,"tsv":8,"dif":5,"air":2.55,"amp":0.14},{"lon":-85.5,"lat":30,"tsm":25,"tsv":7,"dif":5,"air":2.54,"amp":0.18},{"lon":-84,"lat":30,"tsm":25,"tsv":7,"dif":5.5,"air":2.53,"amp":0.22},{"lon":-82.5,"lat":30,"tsm":25,"tsv":6.5,"dif":8,"air":2.52,"amp":0.28},{"lon":-81,"lat":30,"tsm":25,"tsv":7,"dif":7.5,"air":2.5,"amp":0.27},
{"lon":-99,"lat":28.5,"tsm":26,"tsv":11,"dif":3.5,"air":2.59,"amp":-0.03},{"lon":-97.5,"lat":28.5,"tsm":26,"tsv":11,"dif":4,"air":2.59,"amp":-0.02},{"lon":-81,"lat":28.5,"tsm":27,"tsv":5,"dif":7,"air":2.46,"amp":0.36},
{"lon":-97.5,"lat":27,"tsm":25,"tsv":11,"dif":5,"air":2.58,"amp":-0.02},{"lon":-81,"lat":27,"tsm":28,"tsv":4.5,"dif":7.5,"air":2.44,"amp":0.42},
{"lon":-81,"lat":25.5,"tsm":28,"tsv":4,"dif":8,"air":2.42,"amp":0.44}
]},
"columns":2,"spacing":{"row":26,"column":20},
"concat":[
{"width":482,"height":252,"title":{"text":"Tₛₘ","font":"DejaVu Sans","fontStyle":"italic","fontSize":22},"encoding":{"x":{"field":"lon","type":"quantitative","scale":{"domain":[-129.6,-62.7],"nice":false,"zero":false},"axis":{"values":[-120,-110,-100,-90,-80,-70],"format":"d","title":"Longitude, ˚E"}},"y":{"field":"lat","type":"quantitative","scale":{"domain":[18.75,53.75],"nice":false,"zero":false},"axis":{"values":[20,30,40,50],"title":"Latitude, ˚N"}}},
"layer":[{"data":{"name":"grid"},"mark":{"type":"rect","width":11.2,"height":11.2},"encoding":{"color":{"field":"tsm","type":"quantitative","scale":{"domain":[6,33.5],"range":["#000000","#ffffff"]},"legend":{"title":"°C","values":[10,15,20,25,30],"format":"d","encoding":{"title":{"angle":{"value":270},"dy":{"value":18}},"labels":{"dx":{"value":6}}}}}}},
{"data":{"name":"sites"},"transform":[{"filter":"datum.panel=='tsm'"}],"mark":{"type":"point","shape":"M-1,-1L1,1M-1,1L1,-1","size":80,"color":"#e0102a","strokeWidth":2}},
{"data":{"name":"sites"},"transform":[{"filter":"datum.panel=='tsm'"}],"mark":{"type":"text","align":"right","baseline":"bottom","dx":-1,"dy":-3,"font":"Liberation Serif","fontSize":17,"color":"#c8102e"},"encoding":{"text":{"field":"label"}}}]},
{"width":482,"height":252,"title":{"text":"Tₛᵥ","font":"DejaVu Sans","fontStyle":"italic","fontSize":22},"encoding":{"x":{"field":"lon","type":"quantitative","scale":{"domain":[-129.6,-62.7],"nice":false,"zero":false},"axis":{"values":[-120,-110,-100,-90,-80,-70],"format":"d","title":"Longitude, ˚E"}},"y":{"field":"lat","type":"quantitative","scale":{"domain":[18.75,53.75],"nice":false,"zero":false},"axis":{"values":[20,30,40,50],"title":"Latitude, ˚N"}}},
"layer":[{"data":{"name":"grid"},"mark":{"type":"rect","width":11.2,"height":11.2},"encoding":{"color":{"field":"tsv","type":"quantitative","scale":{"domain":[4,21.3],"range":["#000000","#ffffff"]},"legend":{"title":"°C","values":[5,10,15,20],"format":"d","encoding":{"title":{"angle":{"value":270},"dy":{"value":18}},"labels":{"dx":{"value":6}}}}}}},
{"data":{"name":"sites"},"transform":[{"filter":"datum.panel=='tsv'"}],"mark":{"type":"point","shape":"M-1,-1L1,1M-1,1L1,-1","size":80,"color":"#e0102a","strokeWidth":2}},
{"data":{"name":"sites"},"transform":[{"filter":"datum.panel=='tsv'"}],"mark":{"type":"text","align":"right","baseline":"bottom","dx":-1,"dy":-3,"font":"Liberation Serif","fontSize":17,"color":"#c8102e"},"encoding":{"text":{"field":"label"}}}]},
{"width":482,"height":252,"title":{"text":"Soil Diffusivity"},"encoding":{"x":{"field":"lon","type":"quantitative","scale":{"domain":[-129.6,-62.7],"nice":false,"zero":false},"axis":{"values":[-120,-110,-100,-90,-80,-70],"format":"d","title":"Longitude, ˚E"}},"y":{"field":"lat","type":"quantitative","scale":{"domain":[18.75,53.75],"nice":false,"zero":false},"axis":{"values":[20,30,40,50],"title":"Latitude, ˚N"}}},
"layer":[{"data":{"name":"grid"},"mark":{"type":"rect","width":11.2,"height":11.2},"encoding":{"color":{"field":"dif","type":"quantitative","scale":{"domain":[1,11],"range":["#000000","#ffffff"]},"legend":{"title":"10⁻⁷m²s⁻¹","titleFont":"DejaVu Sans","titleFontStyle":"italic","titleFontSize":19,"values":[2,4,6,8,10],"format":"d","encoding":{"title":{"angle":{"value":270},"dy":{"value":24}},"labels":{"dx":{"value":6}}}}}}},
{"data":{"name":"sites"},"transform":[{"filter":"datum.panel=='dif'"}],"mark":{"type":"point","shape":"M-1,-1L1,1M-1,1L1,-1","size":80,"color":"#e0102a","strokeWidth":2}},
{"data":{"name":"sites"},"transform":[{"filter":"datum.panel=='dif'"}],"mark":{"type":"text","align":"right","baseline":"bottom","dx":-1,"dy":-3,"font":"Liberation Serif","fontSize":17,"color":"#c8102e"},"encoding":{"text":{"field":"label"}}}]},
{"width":482,"height":252,"title":{"text":"ϕₐᵢᵣ","font":"DejaVu Sans","fontStyle":"italic","fontSize":22},"encoding":{"x":{"field":"lon","type":"quantitative","scale":{"domain":[-129.6,-62.7],"nice":false,"zero":false},"axis":{"values":[-120,-110,-100,-90,-80,-70],"format":"d","title":"Longitude, ˚E"}},"y":{"field":"lat","type":"quantitative","scale":{"domain":[18.75,53.75],"nice":false,"zero":false},"axis":{"values":[20,30,40,50],"title":"Latitude, ˚N"}}},
"layer":[{"data":{"name":"grid"},"mark":{"type":"rect","width":11.2,"height":11.2},"encoding":{"color":{"field":"air","type":"quantitative","scale":{"domain":[2.11,2.69],"range":["#000000","#ffffff"]},"legend":{"title":"rad","values":[2.2,2.3,2.4,2.5,2.6],"format":".1f","encoding":{"title":{"angle":{"value":270},"dy":{"value":20}},"labels":{"dx":{"value":6}}}}}}},
{"data":{"name":"sites"},"transform":[{"filter":"datum.panel=='air'"}],"mark":{"type":"point","shape":"M-1,-1L1,1M-1,1L1,-1","size":80,"color":"#e0102a","strokeWidth":2}},
{"data":{"name":"sites"},"transform":[{"filter":"datum.panel=='air'"}],"mark":{"type":"text","align":"right","baseline":"bottom","dx":-1,"dy":-3,"font":"Liberation Serif","fontSize":17,"color":"#c8102e"},"encoding":{"text":{"field":"label"}}}]},
{"width":482,"height":252,"title":{"text":"ϕₐ","font":"DejaVu Sans","fontStyle":"italic","fontSize":22},"encoding":{"x":{"field":"lon","type":"quantitative","scale":{"domain":[-129.6,-62.7],"nice":false,"zero":false},"axis":{"values":[-120,-110,-100,-90,-80,-70],"format":"d","title":"Longitude, ˚E"}},"y":{"field":"lat","type":"quantitative","scale":{"domain":[18.75,53.75],"nice":false,"zero":false},"axis":{"values":[20,30,40,50],"title":"Latitude, ˚N"}}},
"layer":[{"data":{"name":"grid"},"mark":{"type":"rect","width":11.2,"height":11.2},"encoding":{"color":{"field":"amp","type":"quantitative","scale":{"domain":[-0.04,0.5],"range":["#000000","#ffffff"]},"legend":{"title":"rad","values":[0,0.1,0.2,0.3,0.4,0.5],"format":".1f","encoding":{"title":{"angle":{"value":270},"dy":{"value":20}},"labels":{"dx":{"value":6}}}}}}},
{"data":{"name":"sites"},"transform":[{"filter":"datum.panel=='amp'"}],"mark":{"type":"point","shape":"M-1,-1L1,1M-1,1L1,-1","size":80,"color":"#e0102a","strokeWidth":2}},
{"data":{"name":"sites"},"transform":[{"filter":"datum.panel=='amp'"}],"mark":{"type":"text","align":"right","baseline":"bottom","dx":-1,"dy":-3,"font":"Liberation Serif","fontSize":17,"color":"#c8102e"},"encoding":{"text":{"field":"label"}}}]}
]}
